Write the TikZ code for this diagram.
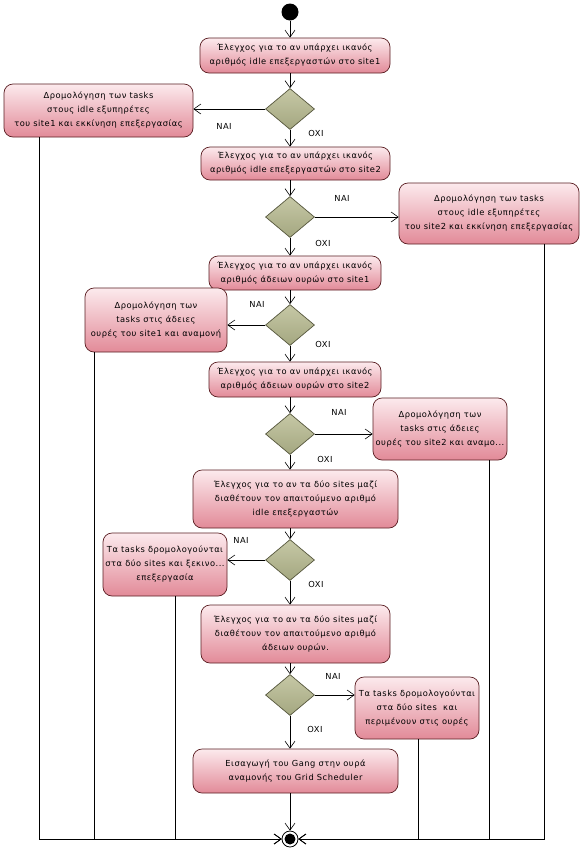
\documentclass[tikz,border=0pt]{standalone}
\usepackage{fontspec}
\setmainfont{DejaVu Sans}
\newfontfamily\boxfont[LetterSpace=6]{DejaVu Sans}
\usetikzlibrary{arrows.meta,shapes.geometric}
\definecolor{boxtop}{HTML}{FCEAED}
\definecolor{boxbot}{HTML}{E28A98}
\definecolor{boxline}{HTML}{5A1E22}
\definecolor{dtop}{HTML}{C6C8A6}
\definecolor{dbot}{HTML}{A4A780}
\definecolor{dline}{HTML}{55563C}
\begin{document}
\begin{tikzpicture}[x=1pt,y=-1pt,
  act/.style={draw=boxline, line width=0.7pt, rounded corners=9pt, top color=boxtop, bottom color=boxbot,
    align=center, font=\boxfont\fontsize{8.3}{14}\selectfont, inner sep=0pt},
  dec/.style={diamond, draw=dline, line width=0.7pt, top color=dtop, bottom color=dbot,
    minimum width=49pt, minimum height=41pt, inner sep=0pt},
  arr/.style={-{Straight Barb[length=7pt,width=10pt]}, line width=0.6pt},
  lab/.style={font=\boxfont\fontsize{8.3}{10}\selectfont, inner sep=0pt}]
\useasboundingbox[fill=white] (0,0) rectangle (582,852);

\node[circle, fill=black, minimum size=17pt, inner sep=0pt] (start) at (290,12) {};

\node[act, minimum width=190pt, minimum height=35pt] (b1) at (295,55.5)
  {Έλεγχος για το αν υπάρχει ικανός\\αριθμός idle επεξεργαστών στο site1};
\node[dec] (d1) at (290,109) {};
\node[act, minimum width=189pt, minimum height=53pt] (l1) at (98.5,110.5)
  {Δρομολόγηση των tasks\\στους idle εξυπηρέτες\\του site1 και εκκίνηση επεξεργασίας};

\node[act, minimum width=189pt, minimum height=33pt] (b2) at (295.5,163.5)
  {Έλεγχος για το αν υπάρχει ικανός\\αριθμός idle επεξεργαστών στο site2};
\node[dec] (d2) at (290,217) {};
\node[act, minimum width=180pt, minimum height=61pt] (r2) at (489,213.5)
  {Δρομολόγηση των tasks\\στους idle εξυπηρέτες\\του site2 και εκκίνηση επεξεργασίας};

\node[act, minimum width=172pt, minimum height=34pt] (b3) at (295,273)
  {Έλεγχος για το αν υπάρχει ικανός\\αριθμός άδειων ουρών στο site1};
\node[dec] (d3) at (290,325) {};
\node[act, minimum width=142pt, minimum height=64pt] (l3) at (156,320)
  {Δρομολόγηση των\\tasks στις άδειες\\ουρές του site1 και αναμονή};

\node[act, minimum width=172pt, minimum height=35pt] (b4) at (295,379.5)
  {Έλεγχος για το αν υπάρχει ικανός\\αριθμός άδειων ουρών στο site2};
\node[dec] (d4) at (290,434) {};
\node[act, minimum width=134pt, minimum height=62pt] (r4) at (440,429)
  {Δρομολόγηση των\\tasks στις άδειες\\ουρές του site2 και αναμο...};

\node[act, minimum width=205pt, minimum height=58pt] (b5) at (295.5,499)
  {Έλεγχος για το αν τα δύο sites μαζί\\διαθέτουν τον απαιτούμενο αριθμό\\idle επεξεργαστών};
\node[dec] (d5) at (290,560) {};
\node[act, minimum width=124pt, minimum height=63pt] (l5) at (165,564.5)
  {Τα tasks δρομολογούνται\\στα δύο sites και ξεκινο...\\επεξεργασία};

\node[act, minimum width=189pt, minimum height=58pt] (b6) at (295.5,634)
  {Έλεγχος για το αν τα δύο sites μαζί\\διαθέτουν τον απαιτούμενο αριθμό\\άδειων ουρών.};
\node[dec] (d6) at (290,695) {};
\node[act, minimum width=124pt, minimum height=62pt] (r6) at (417,708)
  {Τα tasks δρομολογούνται\\στα δύο sites\ \ και\\περιμένουν στις ουρές};

\node[act, minimum width=205pt, minimum height=44pt] (b7) at (295.5,771)
  {Εισαγωγή του Gang στην ουρά\\αναμονής του Grid Scheduler};

\node[circle, draw=black, line width=0.8pt, fill=white, minimum size=16pt, inner sep=0pt] (fin) at (290,839) {};
\fill[black] (fin.center) circle (5.5pt);

% labels
\node[lab] (n1) at (224,126) {NAI};
\node[lab] (o1) at (316,133) {OXI};
\node[lab] (n2) at (342,198) {NAI};
\node[lab] (o2) at (323,243) {OXI};
\node[lab] (n3) at (257,304) {NAI};
\node[lab] (o3) at (323,344) {OXI};
\node[lab] (n4) at (339,412) {NAI};
\node[lab] (o4) at (325,459) {OXI};
\node[lab] (n5) at (241,540) {NAI};
\node[lab] (o5) at (316,584) {OXI};
\node[lab] (n6) at (333,676) {NAI};
\node[lab] (o6) at (315,729) {OXI};

% spine
\draw[arr] (start) -- (start |- b1.north);
\draw[arr] (b1.south -| d1) -- (d1.north);
\draw[arr] (d1.south) -- (d1.south |- b2.north);
\draw[arr] (b2.south -| d2) -- (d2.north);
\draw[arr] (d2.south) -- (d2.south |- b3.north);
\draw[arr] (b3.south -| d3) -- (d3.north);
\draw[arr] (d3.south) -- (d3.south |- b4.north);
\draw[arr] (b4.south -| d4) -- (d4.north);
\draw[arr] (d4.south) -- (d4.south |- b5.north);
\draw[arr] (b5.south -| d5) -- (d5.north);
\draw[arr] (d5.south) -- (d5.south |- b6.north);
\draw[arr] (b6.south -| d6) -- (d6.north);
\draw[arr] (d6.south) -- (d6.south |- b7.north);
\draw[arr] (b7.south -| fin) -- (fin);

% NAI branches
\draw[arr] (d1.west) -- (d1.west -| l1.east);
\draw[arr] (d2.east) -- (d2.east -| r2.west);
\draw[arr] (d3.west) -- (d3.west -| l3.east);
\draw[arr] (d4.east) -- (d4.east -| r4.west);
\draw[arr] (d5.west) -- (d5.west -| l5.east);
\draw[arr] (d6.east) -- (d6.east -| r6.west);

% to final
\coordinate (xl1) at (39,0);
\coordinate (xl3) at (94,0);
\coordinate (xl5) at (175,0);
\coordinate (xr6) at (418,0);
\coordinate (xr4) at (489,0);
\coordinate (xr2) at (544,0);
\draw[arr] (l1.south -| xl1) |- (fin);
\draw[arr] (l3.south -| xl3) |- (fin);
\draw[arr] (l5.south -| xl5) |- (fin);
\draw[arr] (r6.south -| xr6) |- (fin);
\draw[arr] (r4.south -| xr4) |- (fin);
\draw[arr] (r2.south -| xr2) |- (fin);
\end{tikzpicture}
\end{document}
